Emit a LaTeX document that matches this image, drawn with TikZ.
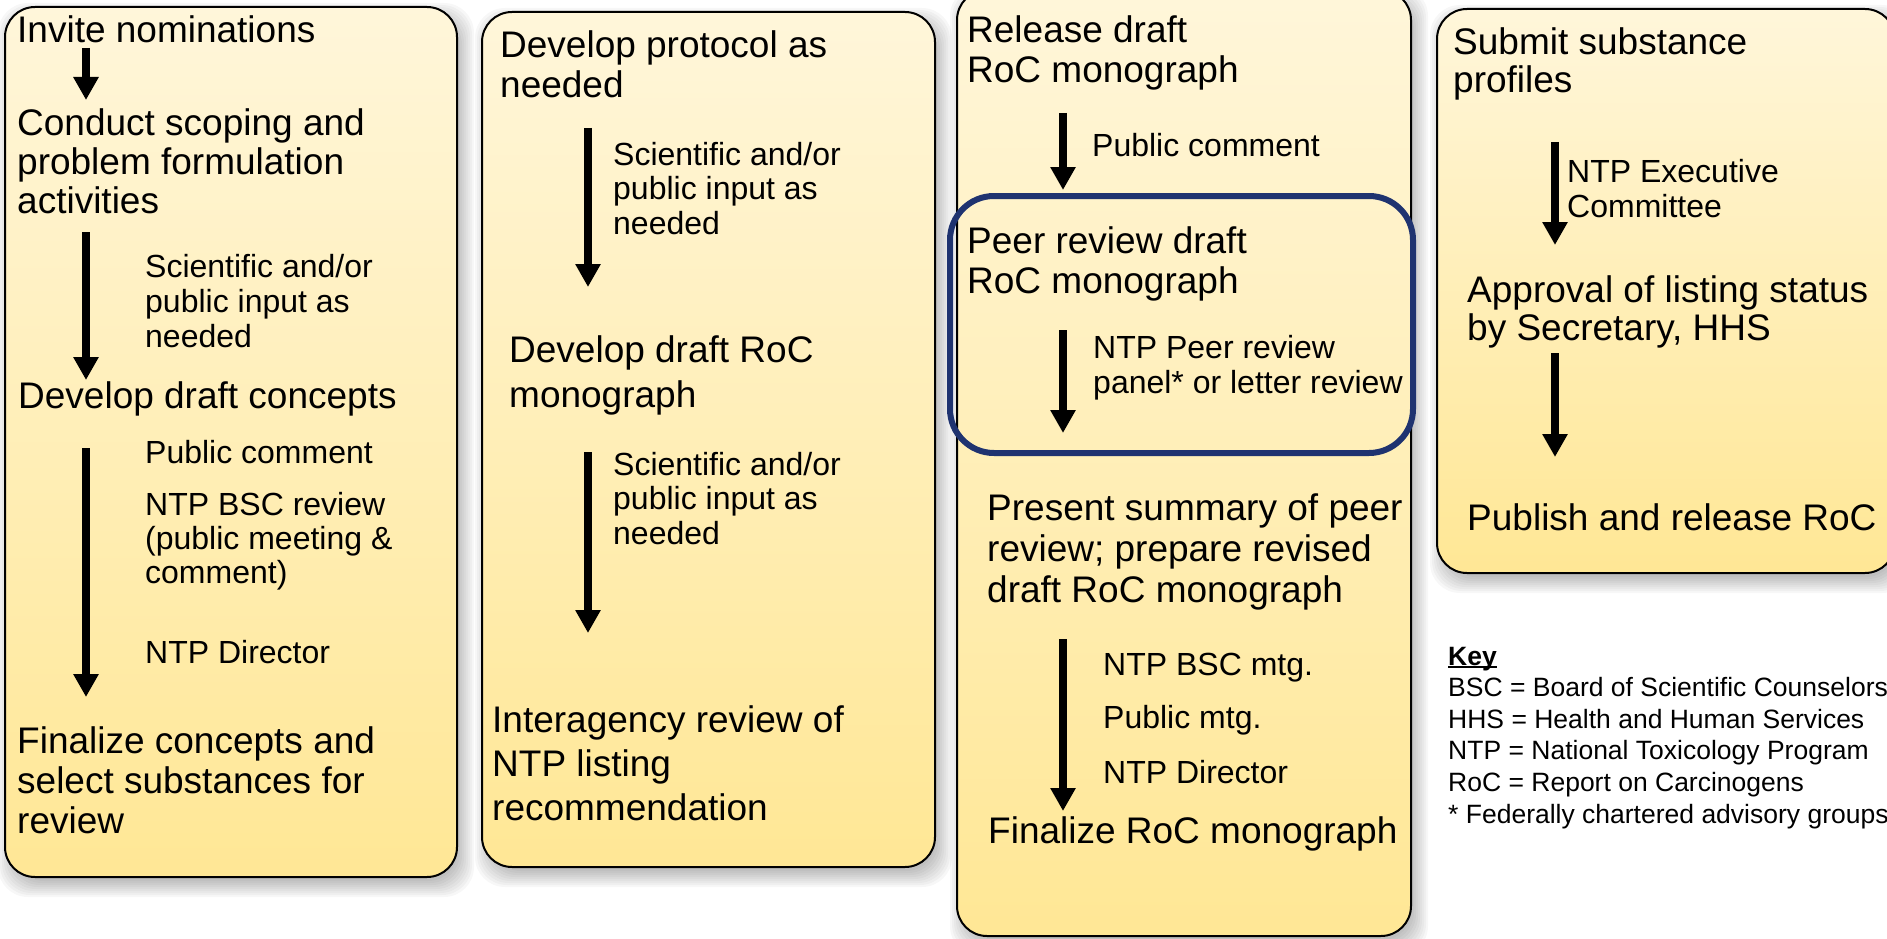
\documentclass[tikz,border=0pt]{standalone}
\usepackage{fontspec}
\setmainfont{Liberation Sans}
\usetikzlibrary{arrows.meta}
\definecolor{boxtop}{HTML}{FFF6DA}
\definecolor{boxbot}{HTML}{FFE795}
\definecolor{navyline}{HTML}{1F3370}
\newcommand\boxshadow[4]{%
  \foreach \e in {-4,-2,...,12}{%
    \fill[black,opacity=0.03,rounded corners=30pt] (#1+5-\e,#2+8-\e) rectangle (#3+5+\e,#4+8+\e);}}
\newcommand\keyuline[1]{{\setbox0\hbox{#1}\rlap{\rule[-3pt]{\wd0}{2pt}}\box0}}
\tikzset{
  stagebox/.style={draw=black,line width=2pt,rounded corners=30pt,top color=boxtop,bottom color=boxbot},
  focusbox/.style={draw=navyline,line width=6pt,rounded corners=44pt},
  mainlbl/.style={anchor=base west,inner sep=0pt,align=left,font=\fontsize{37}{#1}\selectfont},
  mainlbl/.default=40,
  smalllbl/.style={anchor=base west,inner sep=0pt,align=left,font=\fontsize{32}{#1}\selectfont},
  smalllbl/.default=34.5,
  keylbl/.style={anchor=base west,inner sep=0pt,align=left,font=\fontsize{26.5}{31.6}\selectfont},
  flowarrow/.style={line width=8pt,-{Triangle[width=24pt,length=23pt]}}
}
\begin{document}
\begin{tikzpicture}[x=1pt,y=-1pt]
\useasboundingbox (0,0) rectangle (1887,939);
\clip (0,0) rectangle (1887,939);
% shadows
\boxshadow{5}{7}{457}{877}
\boxshadow{482}{12}{935}{867}
\boxshadow{957}{-10}{1411}{936}
\boxshadow{1437}{9}{1895}{573}
% boxes
\path[stagebox] (5,7) rectangle (457,877);
\path[stagebox] (482,12) rectangle (935,867);
\path[stagebox] (957,-10) rectangle (1411,936);
\path[stagebox] (1437,9) rectangle (1895,573);
\path[focusbox] (950,196) rectangle (1413,453);

% ---- column 1 (multi-line nodes are placed by their last baseline)
\node[mainlbl] (t11) at (17,43) {Invite nominations};
\node[mainlbl=39] (t12) at (17,213) {Conduct scoping and\\problem formulation\\activities};
\node[smalllbl=35] (s11) at (145,347) {Scientific and/or\\public input as\\needed};
\node[mainlbl] (t13) at (18,408) {Develop draft concepts};
\node[smalllbl] (s12) at (145,463) {Public comment};
\node[smalllbl=34] (s13) at (145,583) {NTP BSC review\\(public meeting \&\\comment)};
\node[smalllbl] (s14) at (145,663) {NTP Director};
\node[mainlbl] (t14) at (17,833) {Finalize concepts and\\select substances for\\review};
\coordinate (a11s) at (86,48);  \coordinate (a11e) at (86,100);
\coordinate (a12s) at (86,232); \coordinate (a12e) at (86,380);
\coordinate (a13s) at (86,448); \coordinate (a13e) at (86,697);
\draw[flowarrow] (a11s) -- (a11e);
\draw[flowarrow] (a12s) -- (a12e);
\draw[flowarrow] (a13s) -- (a13e);

% ---- column 2
\node[mainlbl] (t21) at (500,98) {Develop protocol as\\needed};
\node[smalllbl] (s21) at (613,234) {Scientific and/or\\public input as\\needed};
\node[mainlbl=45] (t22) at (509,407) {Develop draft RoC\\monograph};
\node[smalllbl] (s22) at (613,544) {Scientific and/or\\public input as\\needed};
\node[mainlbl=44] (t23) at (492,820) {Interagency review of\\NTP listing\\recommendation};
\coordinate (a21s) at (588,128); \coordinate (a21e) at (588,287);
\coordinate (a22s) at (588,452); \coordinate (a22e) at (588,633);
\draw[flowarrow] (a21s) -- (a21e);
\draw[flowarrow] (a22s) -- (a22e);

% ---- column 3
\node[mainlbl] (t31) at (967,83) {Release draft\\RoC monograph};
\node[smalllbl] (s31) at (1092,157) {Public comment};
\node[mainlbl] (t32) at (967,293) {Peer review draft\\RoC monograph};
\node[smalllbl=35] (s32) at (1093,393) {NTP Peer review\\panel* or letter review};
\node[mainlbl=41] (t33) at (987,602) {Present summary of peer\\review; prepare revised\\draft RoC monograph};
\node[smalllbl] (s33) at (1103,675) {NTP BSC mtg.};
\node[smalllbl] (s34) at (1103,728) {Public mtg.};
\node[smalllbl] (s35) at (1103,783) {NTP Director};
\node[mainlbl] (t34) at (988,843) {Finalize RoC monograph};
\coordinate (a31s) at (1063,113); \coordinate (a31e) at (1063,190);
\coordinate (a32s) at (1063,330); \coordinate (a32e) at (1063,433);
\coordinate (a33s) at (1063,639); \coordinate (a33e) at (1063,811);
\draw[flowarrow] (a31s) -- (a31e);
\draw[flowarrow] (a32s) -- (a32e);
\draw[flowarrow] (a33s) -- (a33e);

% ---- column 4
\node[mainlbl=38] (t41) at (1453,93) {Submit substance\\profiles};
\node[smalllbl] (s41) at (1567,217) {NTP Executive\\Committee};
\node[mainlbl=38] (t42) at (1467,340) {Approval of listing status\\by Secretary, HHS};
\node[mainlbl] (t43) at (1467,530) {Publish and release RoC};
\coordinate (a41s) at (1555,142); \coordinate (a41e) at (1555,245);
\coordinate (a42s) at (1555,353); \coordinate (a42e) at (1555,457);
\draw[flowarrow] (a41s) -- (a41e);
\draw[flowarrow] (a42s) -- (a42e);

% ---- key
\node[keylbl] (key) at (1448,823) {\keyuline{\bfseries Key}\\BSC = Board of Scientific Counselors\\HHS = Health and Human Services\\NTP = National Toxicology Program\\RoC = Report on Carcinogens\\* Federally chartered advisory groups};
\end{tikzpicture}
\end{document}
